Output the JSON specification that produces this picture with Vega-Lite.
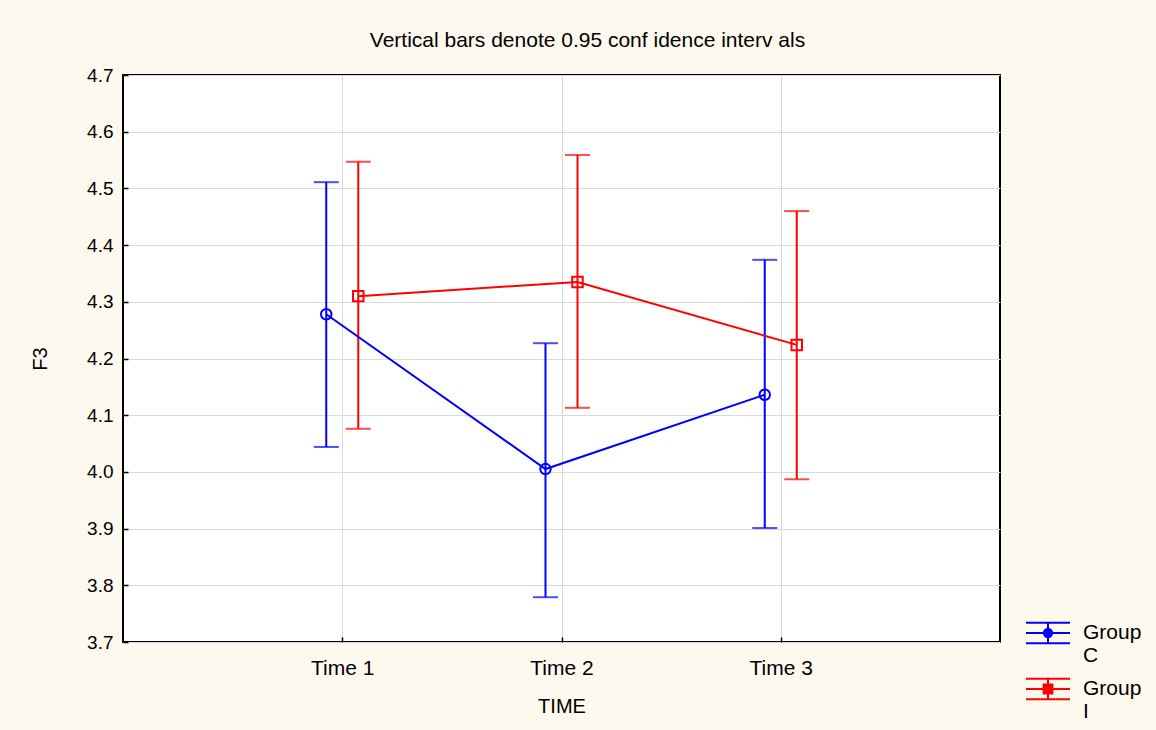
{
  "$schema": "https://vega.github.io/schema/vega-lite/v6.json",
  "width": 877,
  "height": 567,
  "autosize": {"type": "none"},
  "padding": {"left": 123, "top": 75, "right": 156, "bottom": 88},
  "background": "#FEF9EE",
  "title": {
    "text": "Vertical bars denote 0.95 conf idence interv als",
    "font": "Liberation Sans",
    "fontSize": 21,
    "fontWeight": "normal",
    "color": "#000000",
    "anchor": "middle",
    "offset": 15,
    "dx": 26
  },
  "config": {
    "view": {"fill": "white", "stroke": "black", "strokeWidth": 2},
    "axis": {
      "domain": false,
      "grid": true,
      "gridColor": "#D9D9D9",
      "gridWidth": 1,
      "ticks": true,
      "tickColor": "black",
      "tickWidth": 1.5,
      "tickSize": -5,
      "labelFont": "Liberation Sans",
      "labelFontSize": 19,
      "labelColor": "#000000",
      "titleFont": "Liberation Sans",
      "titleFontSize": 20,
      "titleFontWeight": "normal",
      "titleColor": "#000000"
    },
    "legend": {
      "labelFont": "Liberation Sans",
      "labelFontSize": 21,
      "labelColor": "#000000"
    }
  },
  "data": {
    "values": [
      {"time": "Time 1", "group": "Group C", "mean": 4.278, "lo": 4.044, "hi": 4.511},
      {"time": "Time 2", "group": "Group C", "mean": 4.005, "lo": 3.779, "hi": 4.227},
      {"time": "Time 3", "group": "Group C", "mean": 4.136, "lo": 3.901, "hi": 4.374},
      {"time": "Time 1", "group": "Group I", "mean": 4.310, "lo": 4.076, "hi": 4.547},
      {"time": "Time 2", "group": "Group I", "mean": 4.335, "lo": 4.113, "hi": 4.559},
      {"time": "Time 3", "group": "Group I", "mean": 4.224, "lo": 3.987, "hi": 4.460}
    ]
  },
  "encoding": {
    "x": {
      "field": "time",
      "type": "nominal",
      "title": "TIME",
      "scale": {"type": "point", "padding": 1},
      "axis": {"labelAngle": 0, "labelPadding": 20, "labelFontSize": 21, "titlePadding": 18}
    },
    "xOffset": {
      "field": "group",
      "type": "nominal",
      "scale": {"type": "point", "padding": 0, "range": [-16, 16]}
    }
  },
  "layer": [
    {
      "mark": {"type": "rule", "strokeWidth": 2},
      "encoding": {
        "y": {
          "field": "lo",
          "type": "quantitative",
          "title": "F3",
          "scale": {"domain": [3.7, 4.7], "nice": false, "zero": false},
          "axis": {"values": [3.7, 3.8, 3.9, 4.0, 4.1, 4.2, 4.3, 4.4, 4.5, 4.6, 4.7], "format": ".1f", "labelPadding": 15, "titlePadding": 36}
        },
        "y2": {"field": "hi"},
        "color": {
          "field": "group", "type": "nominal", "title": null,
          "scale": {"domain": ["Group C", "Group I"], "range": ["#0000FF", "#FF0000"]},
          "legend": {"orient": "none", "legendX": 902, "legendY": 535, "labelExpr": "split(datum.label, ' ')", "symbolSize": 1936, "symbolStrokeWidth": 2, "symbolFillColor": "transparent", "rowPadding": -6, "labelOffset": 12}
        }
      }
    },
    {
      "mark": {"type": "tick", "thickness": 2, "size": 25, "orient": "horizontal"},
      "encoding": {
        "y": {"field": "lo", "type": "quantitative"},
        "color": {"field": "group", "type": "nominal", "legend": null}
      }
    },
    {
      "mark": {"type": "tick", "thickness": 2, "size": 25, "orient": "horizontal"},
      "encoding": {
        "y": {"field": "hi", "type": "quantitative"},
        "color": {"field": "group", "type": "nominal", "legend": null}
      }
    },
    {
      "mark": {"type": "line", "strokeWidth": 2},
      "encoding": {
        "y": {"field": "mean", "type": "quantitative"},
        "color": {
          "field": "group", "type": "nominal", "title": null,
          "legend": {"orient": "none", "legendX": 902, "legendY": 535, "labelExpr": "split(datum.label, ' ')", "symbolSize": 1936, "symbolStrokeWidth": 2, "symbolFillColor": "transparent", "rowPadding": -6, "labelOffset": 12}
        }
      }
    },
    {
      "transform": [{"filter": "datum.group == 'Group C'"}],
      "mark": {"type": "point", "shape": "circle", "filled": false, "strokeWidth": 2, "opacity": 1, "size": 110},
      "encoding": {
        "y": {"field": "mean", "type": "quantitative"},
        "color": {"field": "group", "type": "nominal", "legend": null}
      }
    },
    {
      "transform": [{"filter": "datum.group == 'Group I'"}],
      "mark": {"type": "point", "shape": "square", "filled": false, "strokeWidth": 2, "opacity": 1, "size": 110},
      "encoding": {
        "y": {"field": "mean", "type": "quantitative"},
        "color": {"field": "group", "type": "nominal", "legend": null}
      }
    },
    {
      "transform": [{"filter": "false"}],
      "mark": {"type": "point", "filled": false, "strokeWidth": 2, "opacity": 1},
      "encoding": {
        "y": {"field": "mean", "type": "quantitative"},
        "color": {
          "field": "group", "type": "nominal", "title": null,
          "legend": {"orient": "none", "legendX": 902, "legendY": 535, "labelExpr": "split(datum.label, ' ')", "symbolSize": 1936, "symbolStrokeWidth": 2, "symbolFillColor": "transparent", "rowPadding": -6, "labelOffset": 12}
        },
        "shape": {
          "field": "group", "type": "nominal", "title": null,
          "scale": {"domain": ["Group C", "Group I"], "range": ["M-1,-0.47H1M-1,0H1M-1,0.47H1M0,-0.47V0.47M0.19,0A0.19,0.19,0,1,1,-0.19,0A0.19,0.19,0,1,1,0.19,0Z", "M-1,-0.47H1M-1,0H1M-1,0.47H1M0,-0.47V0.47M-0.2,-0.2H0.2V0.2H-0.2Z"]},
          "legend": {"orient": "none", "legendX": 902, "legendY": 535, "labelExpr": "split(datum.label, ' ')", "symbolSize": 1936, "symbolStrokeWidth": 2, "symbolFillColor": "transparent", "rowPadding": -6, "labelOffset": 12}
        }
      }
    }
  ]
}
